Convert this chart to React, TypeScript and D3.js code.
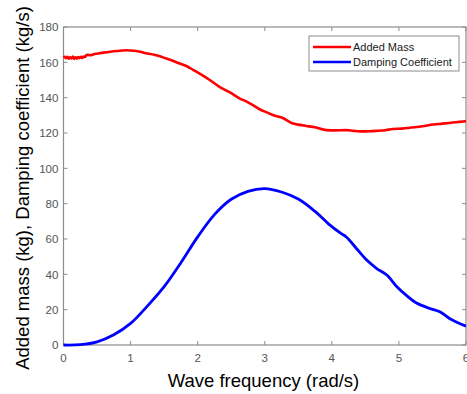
import React from "react";
import * as d3 from "d3";

const W = 467;
const H = 394;

const massFreq = [0, 0.02, 0.04, 0.06, 0.08, 0.1, 0.12, 0.14, 0.16, 0.18, 0.2, 0.22, 0.24, 0.26, 0.28, 0.3, 0.32, 0.34, 0.36, 0.4, 0.45, 0.5, 0.6, 0.7, 0.8, 0.94, 1.05, 1.14, 1.25, 1.35, 1.44, 1.52, 1.59, 1.7, 1.84, 1.93, 2.03, 2.18, 2.33, 2.48, 2.63, 2.73, 2.83, 2.93, 3.05, 3.13, 3.25, 3.42, 3.52, 3.62, 3.75, 3.92, 4.05, 4.22, 4.32, 4.42, 4.55, 4.66, 4.8, 4.91, 5.05, 5.16, 5.35, 5.51, 5.65, 5.8, 5.9, 6.0];
const addedMass = [162.6, 163.1, 162.3, 163.2, 162.0, 162.9, 162.2, 163.3, 161.9, 162.8, 162.1, 163.0, 162.4, 163.1, 162.5, 163.3, 163.0, 164.0, 164.2, 164.0, 164.6, 164.9, 165.5, 166.0, 166.4, 166.8, 166.6, 166.0, 165.0, 164.3, 163.4, 162.3, 161.5, 159.8, 157.8, 155.8, 153.6, 150.0, 146.0, 143.0, 139.5, 137.8, 135.7, 133.3, 131.4, 130.0, 128.8, 125.4, 124.6, 124.0, 123.2, 121.6, 121.5, 121.6, 121.2, 120.9, 121.0, 121.2, 121.6, 122.3, 122.5, 123.0, 123.8, 124.8, 125.3, 125.9, 126.3, 126.7];

const dampFreq = [0, 0.25, 0.5, 0.75, 1.0, 1.25, 1.5, 1.75, 2.0, 2.25, 2.5, 2.75, 3.0, 3.25, 3.5, 3.75, 3.95, 4.13, 4.22, 4.37, 4.52, 4.67, 4.82, 4.97, 5.12, 5.27, 5.45, 5.61, 5.76, 5.88, 6.0];
const dampCoef = [0, 0.2, 1.8, 5.8, 12.2, 22.0, 33.0, 46.6, 61.2, 73.8, 82.5, 87.0, 88.5, 86.6, 82.6, 75.6, 68.6, 63.3, 61.0, 54.5, 48.1, 43.3, 39.6, 33.0, 27.8, 23.6, 20.8, 18.8, 14.9, 12.6, 10.7];

const xTicks = [0, 1, 2, 3, 4, 5, 6];
const yTicks = [0, 20, 40, 60, 80, 100, 120, 140, 160, 180];

const seriesNames = ["Added Mass", "Damping Coefficient"];
const seriesColors = ["#ff0000", "#0000ff"];

const xLabel = "Wave frequency (rad/s)";
const yLabel = "Added mass (kg), Damping coefficient (kg/s)";

export default function App() {
  const left = 63.5, right = 466, top = 27, bottom = 345;
  const x = d3.scaleLinear().domain([0, 6]).range([left, right]);
  const y = d3.scaleLinear().domain([0, 180]).range([bottom, top]);
  const massLine = d3
    .line<[number, number]>()
    .x((d) => x(d[0]))
    .y((d) => y(d[1]))
    .curve(d3.curveMonotoneX);
  const dampLine = d3
    .line<[number, number]>()
    .x((d) => x(d[0]))
    .y((d) => y(d[1]))
    .curve(d3.curveCatmullRom.alpha(0.5));
  const massPts: [number, number][] = massFreq.map((f, i) => [f, addedMass[i]]);
  const dampPts: [number, number][] = dampFreq.map((f, i) => [f, dampCoef[i]]);
  const axisColor = "#8c8c8c";
  const tickText = "#555555";
  const font = "'Liberation Sans', Arial, sans-serif";
  const tl = 4;

  const legX = 309, legY = 36, legW = 150, legH = 35;

  return (
    <svg
      width={W}
      height={H}
      style={{ position: "absolute", left: 0, top: 0, background: "#fff" }}
      fontFamily={font}
    >
      <rect x={0} y={0} width={W} height={H} fill="#fff" />
      <g>
        <rect x={left} y={top} width={right - left} height={bottom - top} fill="none" stroke={axisColor} strokeWidth={1.2} />
        {xTicks.map((t) => (
          <g key={"xt" + t}>
            <line x1={x(t)} x2={x(t)} y1={bottom} y2={bottom - tl} stroke={axisColor} strokeWidth={1} />
            <line x1={x(t)} x2={x(t)} y1={top} y2={top + tl} stroke={axisColor} strokeWidth={1} />
            <text x={x(t)} y={bottom + 17} textAnchor="middle" fontSize={11.6} fill={tickText}>
              {t}
            </text>
          </g>
        ))}
        {yTicks.map((t) => (
          <g key={"yt" + t}>
            <line x1={left} x2={left + tl} y1={y(t)} y2={y(t)} stroke={axisColor} strokeWidth={1} />
            <line x1={right} x2={right - tl} y1={y(t)} y2={y(t)} stroke={axisColor} strokeWidth={1} />
            <text x={left - 5} y={y(t) + 4.2} textAnchor="end" fontSize={11.6} fill={tickText}>
              {t}
            </text>
          </g>
        ))}
      </g>
      <path d={massLine(massPts) || ""} fill="none" stroke={seriesColors[0]} strokeWidth={2.6} strokeLinejoin="round" />
      <path d={dampLine(dampPts) || ""} fill="none" stroke={seriesColors[1]} strokeWidth={2.8} strokeLinejoin="round" />

      <g>
        <rect x={legX} y={legY} width={legW} height={legH} fill="#fff" stroke={axisColor} strokeWidth={1} />
        {seriesNames.map((n, i) => (
          <g key={n}>
            <line x1={legX + 4} x2={legX + 42} y1={legY + 11 + i * 15} y2={legY + 11 + i * 15} stroke={seriesColors[i]} strokeWidth={2.6} />
            <text x={legX + 44} y={legY + 15 + i * 15} fontSize={11} fill="#1a1a1a">
              {n}
            </text>
          </g>
        ))}
      </g>

      <text x={263.5} y={387} textAnchor="middle" fontSize={18.5} fill="#000">
        {xLabel}
      </text>
      <text
        transform={`translate(29,188) rotate(-90)`}
        textAnchor="middle"
        fontSize={18.5}
        fill="#000"
      >
        {yLabel}
      </text>
    </svg>
  );
}
